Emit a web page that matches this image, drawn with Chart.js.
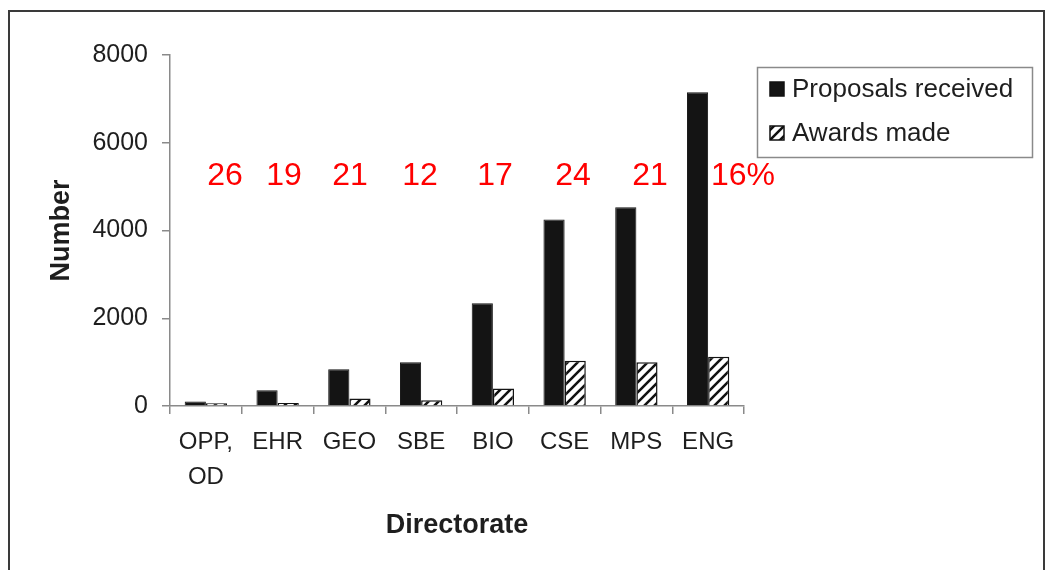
<!DOCTYPE html>
<html>
<head>
<meta charset="utf-8">
<script src="https://cdn.jsdelivr.net/npm/chart.js@4/dist/chart.umd.min.js"></script>
<style>
  html, body { margin: 0; padding: 0; background: #fff; }
  #wrap { width: 1052px; height: 570px; position: relative; }
</style>
</head>
<body>
<div id="wrap"><canvas id="c" width="1052" height="570"></canvas></div>
<script>
// ---- data ----
const categories = [['OPP,', 'OD'], 'EHR', 'GEO', 'SBE', 'BIO', 'CSE', 'MPS', 'ENG'];
const proposalsReceived = [100, 360, 840, 1000, 2340, 4250, 4530, 7150];
const awardsMade = [60, 70, 170, 130, 400, 1030, 1000, 1120];
const successRateLabels = ['26', '19', '21', '12', '17', '24', '21', '16%'];
const yTicks = [0, 2000, 4000, 6000, 8000];
const seriesNames = ['Proposals received', 'Awards made'];

// ---- hatch pattern ----
function makeHatch() {
  const s = 10;
  const p = document.createElement('canvas');
  p.width = s; p.height = s;
  const g = p.getContext('2d');
  g.fillStyle = '#fff';
  g.fillRect(0, 0, s, s);
  g.strokeStyle = '#111';
  g.lineWidth = 2.6;
  g.beginPath();
  g.moveTo(-1, s + 1); g.lineTo(s + 1, -1);
  g.moveTo(-3, 3); g.lineTo(3, -3);
  g.moveTo(s - 3, s + 3); g.lineTo(s + 3, s - 3);
  g.stroke();
  return document.getElementById('c').getContext('2d').createPattern(p, 'repeat');
}
const hatch = makeHatch();

const FONT = "'Liberation Sans', Arial, Helvetica, sans-serif";

// ---- decorations: frame, legend, red percentage labels ----
const decor = {
  id: 'decor',
  beforeDraw(chart) {
    const ctx = chart.ctx;
    ctx.save();
    ctx.fillStyle = '#fff';
    ctx.fillRect(0, 0, chart.width, chart.height);
    ctx.strokeStyle = '#3a3a3a';
    ctx.lineWidth = 2;
    ctx.strokeRect(9, 11, 1035, 600);
    ctx.restore();
  },
  afterDraw(chart) {
    const ctx = chart.ctx;
    ctx.save();
    // legend box
    ctx.strokeStyle = '#8a8a8a';
    ctx.lineWidth = 1.5;
    ctx.strokeRect(757.5, 67.5, 275, 90);
    const rows = [89, 133];
    chart.data.datasets.forEach((ds, i) => {
      const y = rows[i];
      ctx.fillStyle = ds.backgroundColor;
      ctx.fillRect(770, y - 7, 14, 14);
      ctx.strokeStyle = '#111';
      ctx.lineWidth = 1.5;
      ctx.strokeRect(770, y - 7, 14, 14);
      ctx.fillStyle = '#1e1e1e';
      ctx.font = '26px ' + FONT;
      ctx.textAlign = 'left';
      ctx.textBaseline = 'middle';
      ctx.fillText(ds.label, 792, y + 1);
    });
    // red percentage labels
    const xs = [225, 284, 350, 420, 495, 573, 650, 743];
    ctx.fillStyle = '#ff0000';
    ctx.font = '32px ' + FONT;
    ctx.textAlign = 'center';
    ctx.textBaseline = 'middle';
    successRateLabels.forEach((t, i) => ctx.fillText(t, xs[i], 176));
    ctx.restore();
  }
};

new Chart(document.getElementById('c'), {
  type: 'bar',
  data: {
    labels: categories,
    datasets: [
      {
        label: seriesNames[0],
        data: proposalsReceived,
        backgroundColor: '#141414',
        borderColor: '#141414',
        borderWidth: 1,
        categoryPercentage: 0.59,
        barPercentage: 1.0
      },
      {
        label: seriesNames[1],
        data: awardsMade,
        backgroundColor: hatch,
        borderColor: '#141414',
        borderWidth: 1.5,
        categoryPercentage: 0.59,
        barPercentage: 1.0
      }
    ]
  },
  options: {
    responsive: false,
    animation: false,
    events: [],
    layout: { padding: { left: 0, top: 55, right: 308, bottom: 0 } },
    plugins: { legend: { display: false }, tooltip: { enabled: false } },
    scales: {
      x: {
        grid: {
          display: true,
          drawOnChartArea: false,
          drawTicks: true,
          tickLength: 8,
          offset: true,
          color: '#8a8a8a',
          lineWidth: 1.5
        },
        border: { display: true, color: '#8a8a8a', width: 1.5 },
        ticks: {
          color: '#1e1e1e',
          font: { family: FONT, size: 24, lineHeight: 1.45 },
          padding: 11,
          maxRotation: 0,
          autoSkip: false
        },
        title: {
          display: true,
          text: 'Directorate',
          color: '#1e1e1e',
          font: { family: FONT, size: 27, weight: 'bold', lineHeight: 1.2 },
          padding: { top: 0, bottom: 28 }
        },
        afterFit(scale) { scale.height = 164; }
      },
      y: {
        min: 0,
        max: 8000,
        afterBuildTicks(scale) { scale.ticks = yTicks.map(v => ({ value: v })); },
        grid: {
          display: true,
          drawOnChartArea: false,
          drawTicks: true,
          tickLength: 8,
          color: '#8a8a8a',
          lineWidth: 1.5
        },
        border: { display: true, color: '#8a8a8a', width: 1.5 },
        ticks: {
          color: '#1e1e1e',
          font: { family: FONT, size: 25 },
          padding: 14,
          callback: v => String(v)
        },
        title: {
          display: true,
          text: 'Number',
          color: '#1e1e1e',
          font: { family: FONT, size: 27, weight: 'bold', lineHeight: 1.2 },
          padding: { top: 45, bottom: 0 }
        },
        afterFit(scale) { scale.width = 170; }
      }
    }
  },
  plugins: [decor]
});
</script>
</body>
</html>
